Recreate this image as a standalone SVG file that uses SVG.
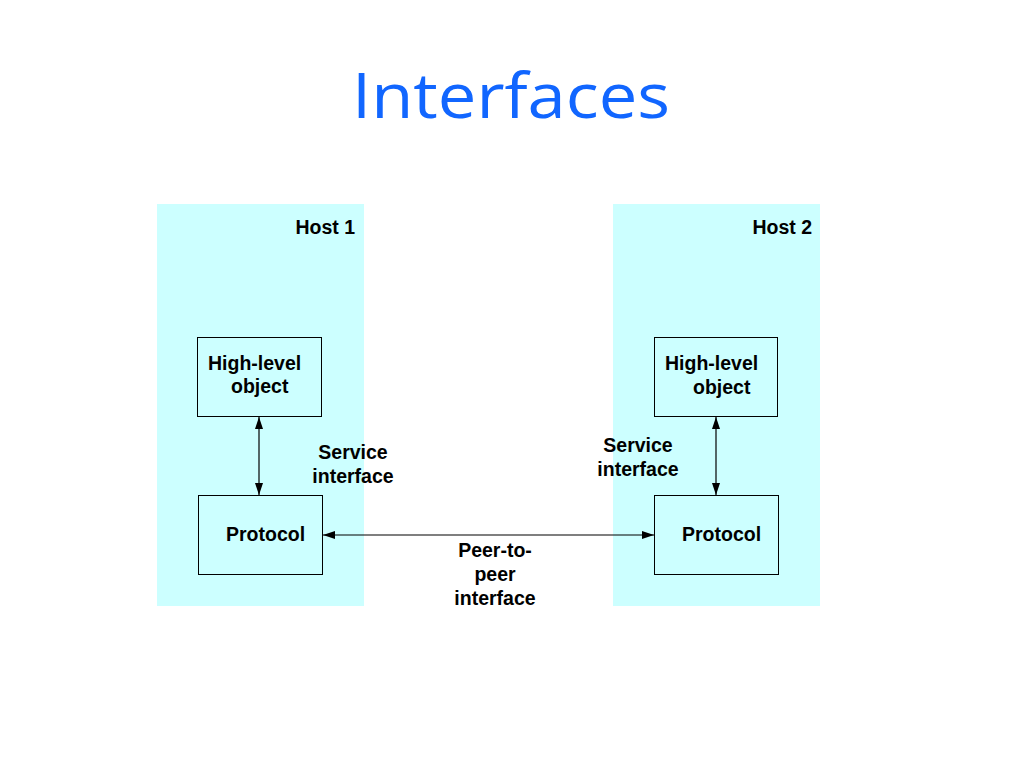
<svg xmlns="http://www.w3.org/2000/svg" width="1024" height="768" viewBox="0 0 1024 768">
<style>
.host{fill:#ccffff;stroke:none}
.box{fill:#ccffff;stroke:#000;stroke-width:1}
.lbl{font-family:"Liberation Sans",Arial,sans-serif;font-weight:bold;font-size:19.5px;fill:#000}
.conn{stroke:#000;stroke-width:1.2;fill:none;marker-start:url(#ah);marker-end:url(#ah)}
.title{font-family:"Comic Sans MS","Open Sans",sans-serif;font-size:62px;fill:#1166ff}
</style>
<defs>
<marker id="ah" viewBox="0 0 12 8" refX="12" refY="4" markerWidth="12" markerHeight="8" markerUnits="userSpaceOnUse" orient="auto-start-reverse">
<path d="M0,0 L12,4 L0,8 Z" fill="#000"/>
</marker>
</defs>
<rect width="1024" height="768" fill="#fff"/>
<text class="title" x="511" y="118" text-anchor="middle" textLength="318" lengthAdjust="spacingAndGlyphs">Interfaces</text>
<g id="host1">
<rect class="host" x="157" y="204" width="207" height="402"/>
<text class="lbl" x="355" y="234" text-anchor="end">Host 1</text>
</g>
<g id="host2">
<rect class="host" x="613" y="204" width="207" height="402"/>
<text class="lbl" x="812" y="234" text-anchor="end">Host 2</text>
</g>
<g id="hl1">
<rect class="box" x="197.5" y="337.5" width="124" height="79"/>
<text class="lbl" x="208" y="370">High-level</text>
<text class="lbl" x="231" y="393">object</text>
</g>
<g id="proto1">
<rect class="box" x="198.5" y="495.5" width="124" height="79"/>
<text class="lbl" x="226" y="541">Protocol</text>
</g>
<g id="hl2">
<rect class="box" x="654.5" y="337.5" width="123" height="79"/>
<text class="lbl" x="665" y="370">High-level</text>
<text class="lbl" x="693" y="394">object</text>
</g>
<g id="proto2">
<rect class="box" x="654.5" y="495.5" width="124" height="79"/>
<text class="lbl" x="682" y="541">Protocol</text>
</g>
<g id="connectors">
<line class="conn" x1="259" y1="417" x2="259" y2="495"/>
<line class="conn" x1="716" y1="417" x2="716" y2="495"/>
<line class="conn" x1="323" y1="535" x2="654" y2="535"/>
</g>
<g id="labels">
<text class="lbl" x="353" y="459" text-anchor="middle">Service</text>
<text class="lbl" x="353" y="483" text-anchor="middle">interface</text>
<text class="lbl" x="638" y="452" text-anchor="middle">Service</text>
<text class="lbl" x="638" y="476" text-anchor="middle">interface</text>
<text class="lbl" x="495" y="557" text-anchor="middle">Peer-to-</text>
<text class="lbl" x="495" y="581" text-anchor="middle">peer</text>
<text class="lbl" x="495" y="605" text-anchor="middle">interface</text>
</g>
</svg>
